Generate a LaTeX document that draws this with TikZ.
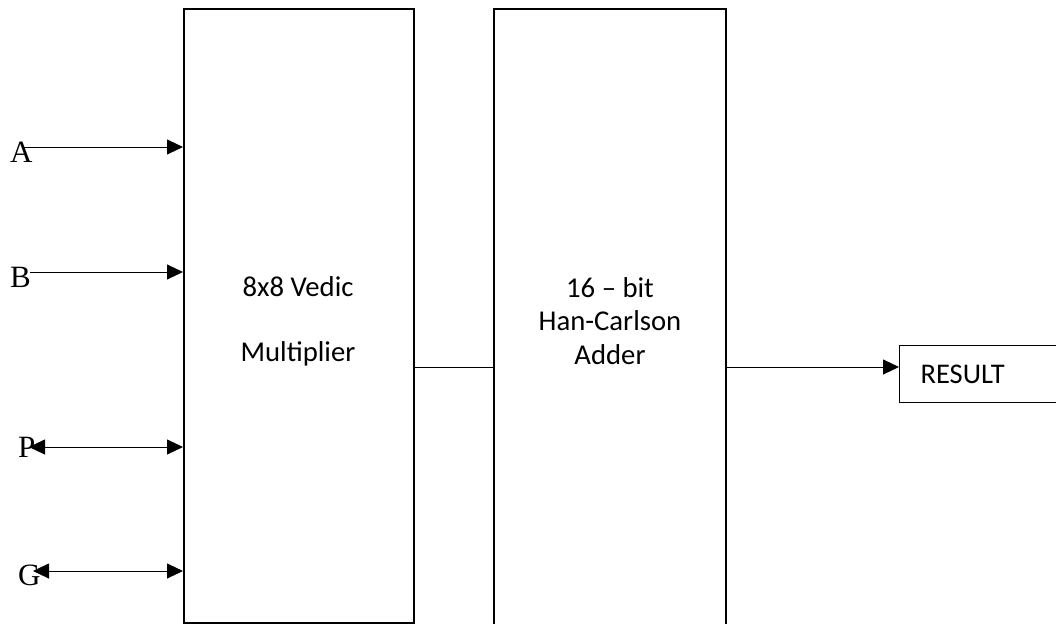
\documentclass[tikz,border=0pt]{standalone}
\usepackage{fontspec}
\setmainfont{Carlito}
\newfontfamily\pinfont{Liberation Serif}
\usetikzlibrary{arrows.meta}

\begin{document}
\begin{tikzpicture}[x=1pt, y=-1pt,
  blk/.style={draw, line width=1.8pt, inner sep=0pt},
  arr/.style={line width=0.9pt, -{Triangle[length=16pt, width=15pt]}},
  darr/.style={line width=0.9pt, {Triangle[length=16pt, width=15pt]}-{Triangle[length=16pt, width=15pt]}},
  pinlbl/.style={font=\pinfont\fontsize{31}{36}\selectfont, anchor=base west, inner sep=0pt},
  txt/.style={font=\fontsize{28.7}{33.5}\selectfont, align=center, inner sep=0pt}]

\useasboundingbox (0,0) rectangle (1056,623);

\def\ytop{8};
\def\ymid{367}; % level of the data path

% multiplier and adder blocks
\node[blk, anchor=north west, minimum width=230, minimum height=614] (mult) at (183,\ytop) {};
\node[blk, anchor=north west, minimum width=232, minimum height=640] (adder) at (493,\ytop) {};

\node[txt] (multtxt) at (298,321) {8x8 Vedic\\[31.5pt]Multiplier};
\node[txt] (addtxt) at (610,321) {16 -- bit\\Han-Carlson\\Adder};

\node[blk, line width=1.2pt, anchor=north west, minimum height=57, text width=160,
  inner xsep=21, align=left, font=\fontsize{28.5}{32}\selectfont] (res) at (899,345) {RESULT};

% inputs
\node[pinlbl] (A) at (10,162) {A};
\node[pinlbl] (B) at (10,287) {B};
\node[pinlbl] (P) at (18,457) {P};
\node[pinlbl] (G) at (18,585) {G};

\coordinate (ina) at (23,147);
\coordinate (inb) at (30,272);
\coordinate (inp) at (29,447);
\coordinate (ing) at (33,571);

\draw[arr] (ina) -- (ina -| mult.west);
\draw[arr] (inb) -- (inb -| mult.west);
\draw[darr] (inp) -- (inp -| mult.west);
\draw[darr] (ing) -- (ing -| mult.west);

% data path
\coordinate (mid) at (0,\ymid);
\draw[line width=0.9pt] (mult.east |- mid) -- (adder.west |- mid);
\draw[arr] (adder.east |- mid) -- (res.west |- mid);

\end{tikzpicture}
\end{document}
